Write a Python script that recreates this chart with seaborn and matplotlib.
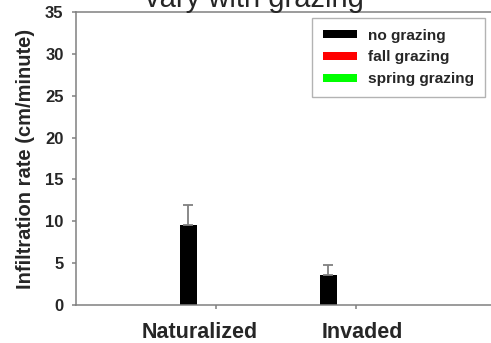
import matplotlib
matplotlib.use("Agg")
import matplotlib.pyplot as plt
import matplotlib.transforms as mtrans
from matplotlib.patches import Patch
import seaborn as sns
import pandas as pd
import numpy as np

# ---- data ----
sites = ["Naturalized", "Invaded"]
treatments = ["no grazing", "fall grazing", "spring grazing"]
no_grazing = [9.6, 3.6]
no_grazing_err = [2.4, 1.2]
fall_grazing = [0.0, 0.0]
fall_grazing_err = [0.0, 0.0]
spring_grazing = [0.0, 0.0]
spring_grazing_err = [0.0, 0.0]
yticks = [0, 5, 10, 15, 20, 25, 30, 35]
title_text = "vary with grazing"
ylabel_text = "Infiltration rate (cm/minute)"

colors = ["#000000", "#ff0000", "#00ff00"]
gray = "#808080"

df = pd.DataFrame({
    "site": sites * 3,
    "treatment": [treatments[0]] * 2 + [treatments[1]] * 2 + [treatments[2]] * 2,
    "rate": no_grazing + fall_grazing + spring_grazing,
    "err": no_grazing_err + fall_grazing_err + spring_grazing_err,
})

sns.set_style("white")
plt.rcParams["font.family"] = ["Liberation Sans", "DejaVu Sans"]

fig = plt.figure(figsize=(4.91, 3.43), dpi=100)
W, H = 491, 343
ax_w_px = 460  # axes runs past the right edge of the picture (cropped chart)
ax = fig.add_axes([76 / W, 1 - 305 / H, ax_w_px / W, 293 / H])

sns.barplot(data=df, x="site", y="rate", hue="treatment", order=sites,
            hue_order=treatments, palette=colors, errorbar=None,
            saturation=1, ax=ax, legend=False, linewidth=0)

# layout of bars within a group (SigmaPlot-like)
bw = 0.121
first_off = -0.257
for hi, cont in enumerate(ax.containers):
    for ci, bar in enumerate(cont):
        bar.set_width(bw)
        bar.set_x(ci + first_off + hi * bw)

# upward-only error bars
for hi, t in enumerate(treatments):
    sub = df[df["treatment"] == t].set_index("site").loc[sites]
    cont = ax.containers[hi]
    xs = [b.get_x() + b.get_width() / 2 for b in cont]
    errs = sub["err"].values
    if np.any(errs > 0):
        ax.errorbar(xs, sub["rate"].values, yerr=[np.zeros_like(errs), errs],
                    fmt="none", ecolor=gray, elinewidth=1.3, capsize=3.5,
                    capthick=1.3, zorder=1)

ax.set_xlim(-1.0, -1.0 + ax_w_px / 140)
ax.set_ylim(0, 35)
ax.set_yticks(yticks)
ax.set_yticklabels([str(v) for v in yticks], fontsize=12, fontweight="bold")
ax.set_xticks(range(len(sites)))
ax.set_xticklabels(sites, fontsize=15.5, fontweight="bold")
ax.set_xlabel("")
ax.set_ylabel(ylabel_text, fontsize=14.5, fontweight="bold", labelpad=7)

for s in ["left", "bottom", "top"]:
    ax.spines[s].set_color(gray)
    ax.spines[s].set_linewidth(1.1)
ax.spines["right"].set_visible(False)
ax.tick_params(axis="y", direction="out", length=3, width=1.1, color=gray,
               pad=6, left=True, right=False)
ax.tick_params(axis="x", direction="out", length=3, width=1.1, color=gray,
               pad=9, bottom=True, top=False)

# label placement as in reference
for lbl, dx in zip(ax.get_xticklabels(), [-16, 6]):
    lbl.set_transform(lbl.get_transform() +
                      mtrans.ScaledTranslation(dx / 100, 0, fig.dpi_scale_trans))

handles = [Patch(facecolor=c, edgecolor="none") for c in colors]
leg = fig.legend(handles, treatments, loc="upper right",
                 bbox_to_anchor=(485 / W, 1 - 18 / H), bbox_transform=fig.transFigure,
                 prop={"weight": "bold", "size": 11.1}, frameon=True, fancybox=False,
                 shadow=False, handlelength=2.2, handleheight=0.4,
                 handletextpad=0.75, labelspacing=0.5, borderpad=0.7,
                 borderaxespad=0)
leg.get_frame().set_edgecolor("#a0a0a0")
leg.get_frame().set_linewidth(1.0)

fig.text(254 / W, 1 - 7 / H, title_text, ha="center", va="baseline", fontsize=21)

fig.savefig("out.png", dpi=100)
